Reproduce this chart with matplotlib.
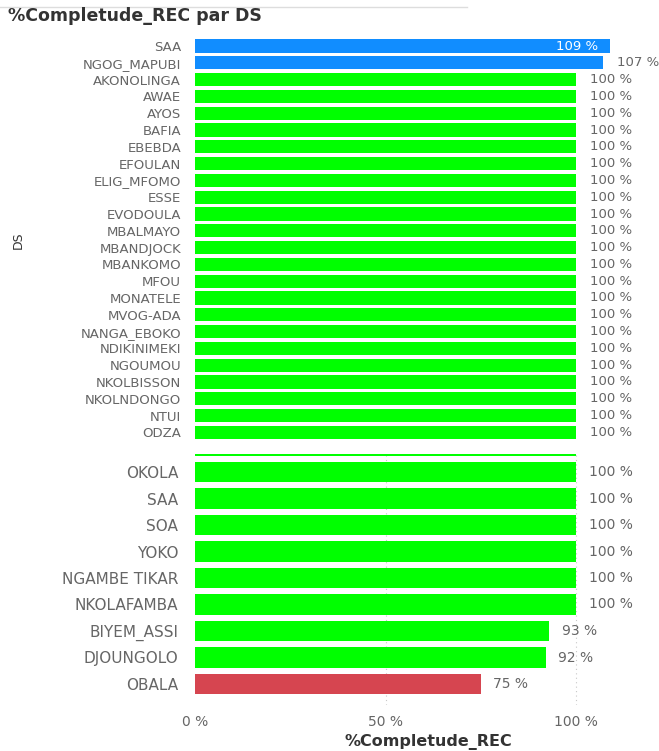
import matplotlib.pyplot as plt
from matplotlib.transforms import Bbox, TransformedBbox

# top part of the list (compressed rows)
top_ds = ["SAA", "NGOG_MAPUBI", "AKONOLINGA", "AWAE", "AYOS", "BAFIA", "EBEBDA",
          "EFOULAN", "ELIG_MFOMO", "ESSE", "EVODOULA", "MBALMAYO", "MBANDJOCK",
          "MBANKOMO", "MFOU", "MONATELE", "MVOG-ADA", "NANGA_EBOKO", "NDIKINIMEKI",
          "NGOUMOU", "NKOLBISSON", "NKOLNDONGO", "NTUI", "ODZA"]
top_vals = [109, 107] + [100] * 22

# bottom part (zoomed rows); first row is cut at the top edge
bot_ds = ["ODZA", "OKOLA", "SAA", "SOA", "YOKO", "NGAMBE TIKAR", "NKOLAFAMBA",
          "BIYEM_ASSI", "DJOUNGOLO", "OBALA"]
bot_vals = [100, 100, 100, 100, 100, 100, 100, 93, 92, 75]

BLUE = "#118DFF"
GREEN = "#00FF00"
RED = "#D64550"
GRAY = "#666666"


def bar_color(v):
    if v > 100:
        return BLUE
    if v >= 80:
        return GREEN
    return RED


W, H = 659, 751
fig = plt.figure(figsize=(W / 100, H / 100), dpi=100)

x0_px = 195
px_per_unit = 3.81
xmax = (W - x0_px) / px_per_unit


def add_axes_px(top, bottom):
    return fig.add_axes([x0_px / W, 1 - bottom / H, (W - x0_px) / W, (bottom - top) / H])


# ---------------- top section ----------------
ax1 = add_axes_px(36, 452)
row0, step = 46, 16.8
ax1.barh(range(len(top_ds)), top_vals, height=0.78,
         color=[bar_color(v) for v in top_vals])
ax1.set_xlim(0, xmax)
ax1.set_ylim((452 - row0) / step, (36 - row0) / step)
ax1.set_yticks(range(len(top_ds)))
ax1.set_yticklabels(top_ds, fontsize=9.5, color=GRAY)
ax1.tick_params(axis="y", length=0, pad=10)
ax1.set_xticks([])
for s in ax1.spines.values():
    s.set_visible(False)
for i, v in enumerate(top_vals):
    if v > 108:
        ax1.text(v - 3.3, i, f"{v} %", ha="right", va="center", color="white", fontsize=9.5)
    else:
        ax1.text(v + 3.7, i, f"{v} %", ha="left", va="center", color=GRAY, fontsize=9.5,
                 clip_on=False)

# ---------------- bottom section ----------------
ax2 = add_axes_px(454, 705)
row0, step = 445.5, 26.5
ax2.barh(range(len(bot_ds)), bot_vals, height=0.76,
         color=[bar_color(v) for v in bot_vals], zorder=2)
ax2.set_xlim(0, xmax)
ax2.set_ylim((705 - row0) / step, (454 - row0) / step)
ax2.set_yticks(range(1, len(bot_ds)))
ax2.set_yticklabels(bot_ds[1:], fontsize=11, color=GRAY)
ax2.tick_params(axis="y", length=0, pad=12)
ax2.set_xticks([0, 50, 100])
ax2.set_xticklabels(["0 %", "50 %", "100 %"], fontsize=10, color=GRAY)
ax2.tick_params(axis="x", length=0, pad=7)
for x in [50, 100]:
    ax2.axvline(x, color="#C8C8C8", lw=0.8, ls=(0, (1, 3)), zorder=0)
for s in ax2.spines.values():
    s.set_visible(False)
for i, v in enumerate(bot_vals):
    if i == 0:
        continue
    ax2.text(v + 3.3, i, f"{v} %", ha="left", va="center", color=GRAY, fontsize=10,
             clip_on=False)

# clip the left edge of the lower tick labels (cut in the original)
clip = TransformedBbox(Bbox([[63 / W, 0], [1, 1]]), fig.transFigure)
for lab in ax2.get_yticklabels():
    lab.set_clip_box(clip)
    lab.set_clip_on(True)

# axis titles and header
fig.text(428 / W, 1 - 742 / H, "%Completude_REC", ha="center", va="center",
         fontsize=11.5, fontweight="bold", color="#333333")
fig.text(18 / W, 1 - 240 / H, "DS", rotation=90, ha="center", va="center",
         fontsize=9, color="#333333")
fig.text(8 / W, 1 - 16 / H, "%Completude_REC par DS", ha="left", va="center",
         fontsize=12.5, fontweight="bold", color="#333333")
fig.add_artist(plt.Line2D([0, 467 / W], [1 - 7 / H, 1 - 7 / H], color="#DDDDDD", lw=1))

fig.savefig("out.png", dpi=100)
